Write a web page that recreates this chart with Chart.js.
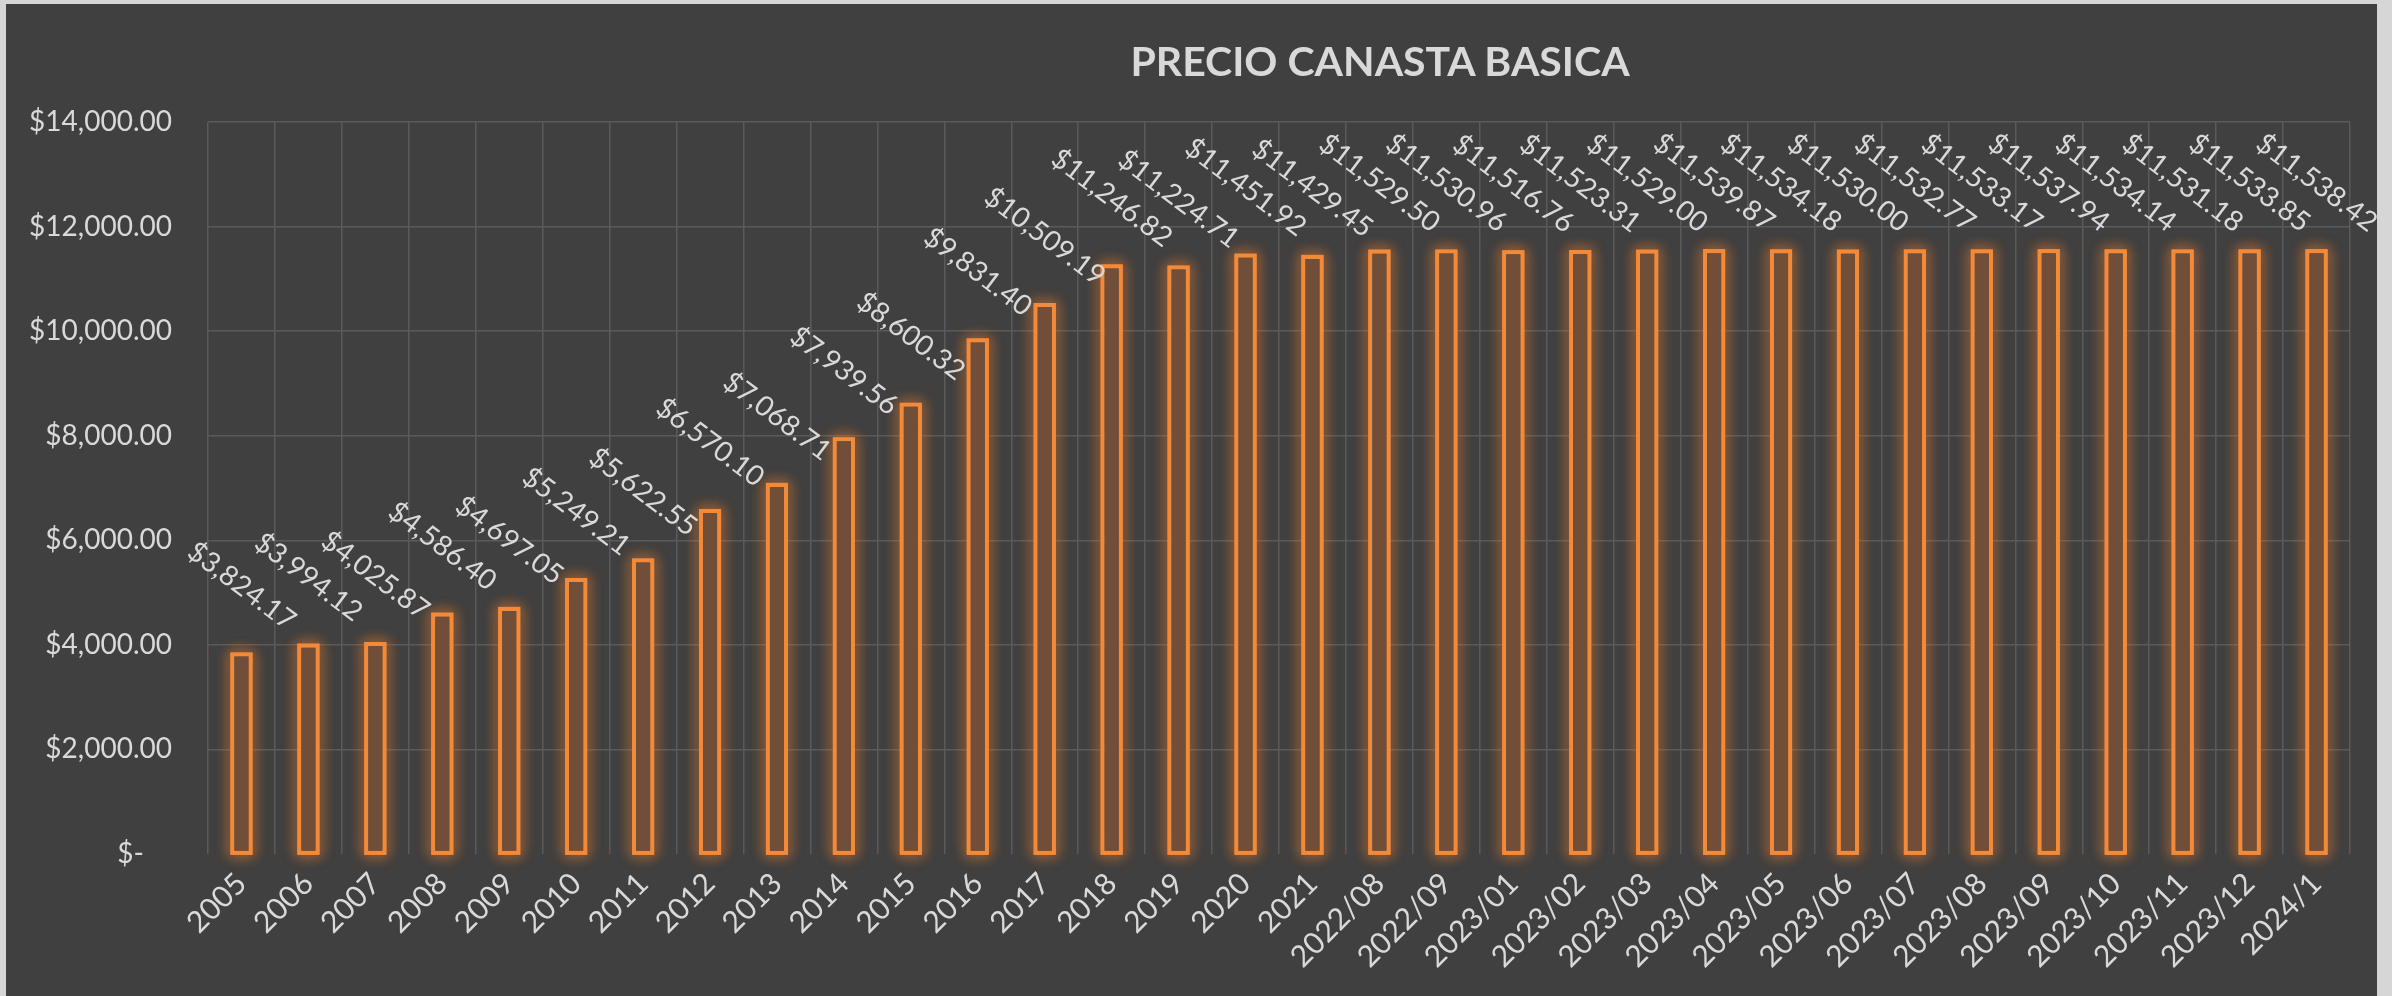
<!DOCTYPE html>
<html>
<head>
<meta charset="utf-8">
<script src="https://cdn.jsdelivr.net/npm/chart.js@4"></script>
<style>
    body { margin: 0; background: #d6d6d6; width: 2392px; height: 996px; overflow: hidden; }
    #wrap { position: absolute; left: 6px; top: 4px; width: 2371px; height: 992px; background: #404040; }
    #title { position: absolute; left: 0; width: 2748px; top: 31px; text-align: center;
             font: bold 41px Lato, sans-serif; color: #d9d9d9; margin: 0; line-height: 52px; }
    canvas { position: absolute; left: 0; top: 0; }
</style>
</head>
<body>
<div id="wrap">
    <canvas id="canastaChart" width="2371" height="992"></canvas>
    <h1 id="title">PRECIO CANASTA BASICA</h1>
</div>
<script>
const periods = ['2005', '2006', '2007', '2008', '2009', '2010', '2011', '2012', '2013', '2014',
    '2015', '2016', '2017', '2018', '2019', '2020', '2021', '2022/08', '2022/09',
    '2023/01', '2023/02', '2023/03', '2023/04', '2023/05', '2023/06', '2023/07',
    '2023/08', '2023/09', '2023/10', '2023/11', '2023/12', '2024/1'];

const prices = [3824.17, 3994.12, 4025.87, 4586.40, 4697.05, 5249.21, 5622.55, 6570.10,
    7068.71, 7939.56, 8600.32, 9831.40, 10509.19, 11246.82, 11224.71, 11451.92, 11429.45,
    11529.50, 11530.96, 11516.76, 11523.31, 11529.00, 11539.87, 11534.18, 11530.00,
    11532.77, 11533.17, 11537.94, 11534.14, 11531.18, 11533.85, 11538.42];

const yTicks = [0, 2000, 4000, 6000, 8000, 10000, 12000, 14000];

const textColor = '#d9d9d9';
const gridColor = '#5a5a5a';
const barOrange = '#f28a3a';

function money(v) {
    return '$' + v.toLocaleString('en-US', { minimumFractionDigits: 2, maximumFractionDigits: 2 });
}

// orange glow behind each bar, then rotated value labels on top
const barDecor = {
    id: 'barDecor',
    beforeDatasetsDraw(chart) {
        const ctx = chart.ctx;
        const meta = chart.getDatasetMeta(0);
        ctx.save();
        ctx.strokeStyle = barOrange;
        ctx.lineWidth = 3;
        ctx.shadowColor = 'rgba(245, 130, 45, 0.9)';
        ctx.shadowBlur = 14;
        meta.data.forEach(bar => {
            const w = bar.width;
            ctx.strokeRect(bar.x - w / 2, bar.y, w, bar.base - bar.y);
            ctx.strokeRect(bar.x - w / 2, bar.y, w, bar.base - bar.y);
        });
        ctx.restore();
    },
    afterDatasetsDraw(chart) {
        const ctx = chart.ctx;
        const meta = chart.getDatasetMeta(0);
        ctx.save();
        ctx.font = '28px Lato, sans-serif';
        ctx.fillStyle = textColor;
        ctx.textAlign = 'center';
        ctx.textBaseline = 'middle';
        meta.data.forEach((bar, i) => {
            ctx.save();
            ctx.translate(bar.x, bar.y - 68);
            ctx.rotate(37 * Math.PI / 180);
            ctx.fillText(money(prices[i]), 0, 0);
            ctx.restore();
        });
        ctx.restore();
    }
};

function initChart() {
    const ctx = document.getElementById('canastaChart').getContext('2d');

    new Chart(ctx, {
        type: 'bar',
        data: {
            labels: periods,
            datasets: [{
                label: 'Precio',
                data: prices,
                borderColor: barOrange,
                backgroundColor: 'rgba(112, 78, 55, 1)',
                borderWidth: 2.5,
                borderSkipped: false,
                categoryPercentage: 1,
                barPercentage: 0.285
            }]
        },
        options: {
            responsive: false,
            devicePixelRatio: 1,
            animation: false,
            layout: { padding: { left: 0, right: 27, top: 118, bottom: 0 } },
            plugins: {
                legend: { display: false },
                title: { display: false },
                tooltip: { enabled: false }
            },
            scales: {
                x: {
                    offset: true,
                    grid: { display: true, offset: true, color: gridColor, lineWidth: 1.5, drawTicks: false },
                    border: { display: false },
                    ticks: {
                        color: textColor,
                        font: { family: 'Lato', size: 30 },
                        minRotation: 45,
                        maxRotation: 45,
                        autoSkip: false,
                        padding: 12
                    },
                    afterFit(scale) { scale.height = 142; }
                },
                y: {
                    min: 0,
                    max: 14000,
                    afterBuildTicks(scale) { scale.ticks = yTicks.map(v => ({ value: v })); },
                    grid: {
                        color: c => (c.tick && c.tick.value === 0) ? 'rgba(0,0,0,0)' : gridColor,
                        lineWidth: 1.5,
                        drawTicks: false
                    },
                    border: { display: false },
                    ticks: {
                        color: textColor,
                        font: { family: 'Lato', size: 28 },
                        padding: 36,
                        callback: v => v === 0 ? '$-\u2002\u2002' : money(v)
                    },
                    afterFit(scale) { scale.width = 202; }
                }
            }
        },
        plugins: [barDecor]
    });
}

document.fonts.load('28px Lato').then(initChart, initChart);
</script>
</body>
</html>
